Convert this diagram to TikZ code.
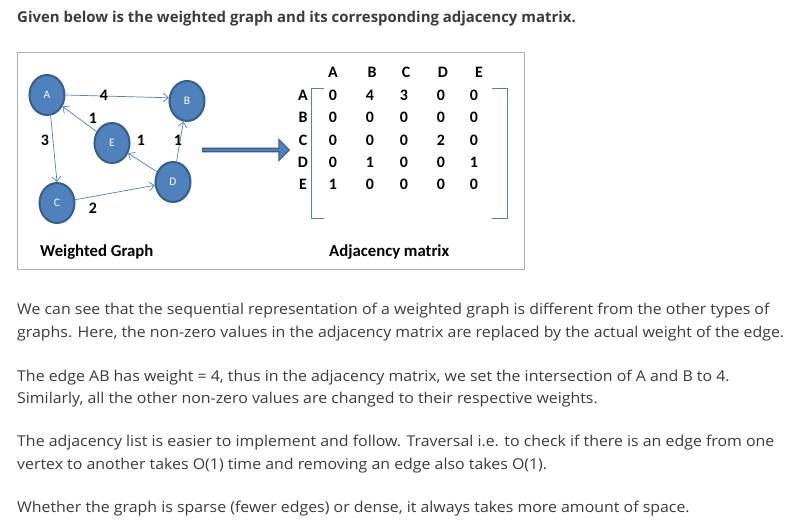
\documentclass[tikz,border=0pt]{standalone}
\usepackage{fontspec}
\setmainfont{Open Sans}
\newfontfamily\calib{Carlito}
\usetikzlibrary{shapes.geometric,shapes.arrows,arrows.meta}
\definecolor{ofblue}{HTML}{4F81BD}
\definecolor{ofdark}{HTML}{385D8A}
\definecolor{txt}{HTML}{3C3C3C}
\definecolor{boxgray}{HTML}{B0B0B0}
\newcommand{\wline}[1]{\scalebox{1.064}[1]{#1}}
\tikzset{
  vtx/.style={ellipse, minimum width=35bp, minimum height=40bp, inner sep=0pt,
    fill=ofblue, draw=ofdark, line width=2bp, text=white, font=\calib\fontsize{11.5}{13}\selectfont},
  edge/.style={draw=ofblue, line width=0.7bp, -{Straight Barb[length=5bp,width=9bp]}},
  wt/.style={font=\calib\bfseries\fontsize{16}{18}\selectfont, inner sep=0pt},
  mtx/.style={font=\calib\bfseries\fontsize{16}{18}\selectfont, inner sep=0pt},
  captext/.style={font=\calib\bfseries\fontsize{16.8}{18}\selectfont, anchor=west, inner sep=0pt},
  body/.style={anchor=base west, inner sep=0pt, text=txt, font=\fontsize{15}{17}\selectfont},
  bracket/.style={draw=ofblue, line width=0.8bp},
}
\begin{document}
\begin{tikzpicture}[x=1bp,y=-1bp]
\useasboundingbox (0,0) rectangle (803,528);
\fill[white] (0,0) rectangle (803,528);

\node[anchor=base west, inner sep=0pt, text=txt, font=\bfseries\fontsize{15}{17}\selectfont] (title) at (17,23)
  {Given below is the weighted graph and its corresponding adjacency matrix.};

\draw[boxgray, line width=0.8bp] (17,52) rectangle (524,269);

% graph
\node[vtx] (A) at (47,95) {A};
\node[vtx] (B) at (187,101) {B};
\node[vtx] (E) at (112,143) {E};
\node[vtx] (C) at (57,203) {C};
\node[vtx] (D) at (173,182) {D};

\draw[edge] (A.east) -- (B.170);
\draw[edge] (A.-80) -- (C.north);
\draw[edge] (E) -- (A);
\draw[edge] (D) -- (E);
\draw[edge] (D) -- (B);
\draw[edge] (C) -- (D);

\node[wt] (w4) at (104,95) {4};
\node[wt] (w1a) at (93,118) {1};
\node[wt] (w3) at (45,140) {3};
\node[wt] (w1b) at (141,140) {1};
\node[wt] (w1c) at (178,140) {1};
\node[wt] (w2) at (93,208) {2};

\node[captext] (lg) at (40,252) {Weighted Graph};

% big arrow
\node[single arrow, fill=ofblue, draw=ofdark, line width=1.2bp, minimum height=87bp, minimum width=21bp,
  single arrow head extend=3bp, single arrow tip angle=90, inner sep=0pt, shape border rotate=0] (arr) at (245,150) {};

% matrix
\foreach \c/\x in {A/333,B/372,C/406,D/443,E/479}{
  \node[mtx] (h\c) at (\x,72) {\c};
}
\foreach \r/\y in {A/95,B/117,C/140,D/162,E/184}{
  \node[mtx] (r\r) at (303,\y) {\r};
}
\foreach \v/\x [count=\j] in {0/333,4/370,3/404,0/441,0/474}{\node[mtx] (m1\j) at (\x,95) {\v};}
\foreach \v/\x [count=\j] in {0/333,0/370,0/404,0/441,0/474}{\node[mtx] (m2\j) at (\x,117) {\v};}
\foreach \v/\x [count=\j] in {0/333,0/370,0/404,2/441,0/474}{\node[mtx] (m3\j) at (\x,140) {\v};}
\foreach \v/\x [count=\j] in {0/333,1/370,0/404,0/441,1/474}{\node[mtx] (m4\j) at (\x,162) {\v};}
\foreach \v/\x [count=\j] in {1/333,0/370,0/404,0/441,0/474}{\node[mtx] (m5\j) at (\x,184) {\v};}

\coordinate (lbt) at (311,88);
\coordinate (lbb) at (311,218);
\draw[bracket] (324,88) -- (lbt) -- (lbb) -- (324,218);
\draw[bracket] (492,88) -- (507,88) -- (507,218) -- (492,218);

\node[captext] (lm) at (329,252) {Adjacency matrix};

% body text
\node[body] (t1) at (17,315) {\wline{We can see that the sequential representation of a weighted graph is different from the other types of}};
\node[body] (t2) at (17,337) {\wline{graphs. Here, the non-zero values in the adjacency matrix are replaced by the actual weight of the edge.}};
\node[body] (t3) at (17,381) {\wline{The edge AB has weight = 4, thus in the adjacency matrix, we set the intersection of A and B to 4.}};
\node[body] (t4) at (17,403) {\wline{Similarly, all the other non-zero values are changed to their respective weights.}};
\node[body] (t5) at (17,446) {\wline{The adjacency list is easier to implement and follow. Traversal i.e. to check if there is an edge from one}};
\node[body] (t6) at (17,469) {\wline{vertex to another takes O(1) time and removing an edge also takes O(1).}};
\node[body] (t7) at (17,512) {\wline{Whether the graph is sparse (fewer edges) or dense, it always takes more amount of space.}};
\end{tikzpicture}
\end{document}
